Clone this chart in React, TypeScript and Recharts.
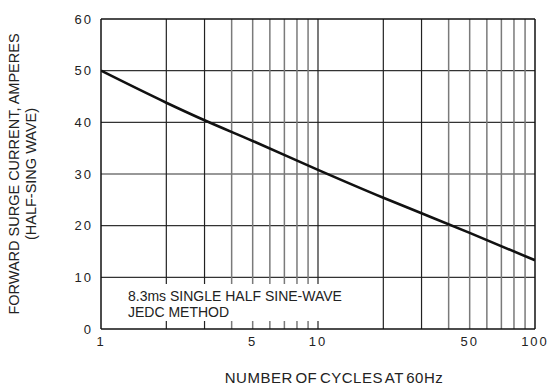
import { LineChart, Line, XAxis, YAxis, ReferenceLine } from 'recharts';

// surge current vs number of cycles (log x)
const cycles = [1, 2, 3, 5, 10, 20, 30, 50, 100];
const amps = [50, 43.8, 40.4, 36.4, 30.8, 25.4, 22.4, 18.6, 13.3];

const xTicks = [1, 5, 10, 50, 100];
const yTicks = [0, 10, 20, 30, 40, 50, 60];
const darkGridX = [2, 3, 10, 20, 30];
const greyGridX = [4, 5, 6, 7, 8, 9, 40, 50, 60, 70, 80, 90];
const gridY = [10, 20, 30, 40, 50];

const data = cycles.map((c, i) => ({ cycles: c, amps: amps[i] }));

const font = 'Arial, "Liberation Sans", Helvetica, sans-serif';
const tickStyle = { fontSize: 13, fill: '#222', fontFamily: font, letterSpacing: 2 };

export default function App() {
  return (
    <div style={{ position: 'absolute', left: 0, top: 0, width: 550, height: 388, background: '#fff' }}>
      <LineChart width={550} height={388} data={data} margin={{ top: 19, right: 15, bottom: 0, left: 0 }}>
        {gridY.map(v => (
          <ReferenceLine key={'y' + v} y={v} stroke="#333" strokeWidth={1.2} />
        ))}
        {greyGridX.map(v => (
          <ReferenceLine key={'g' + v} x={v} stroke="#7a7a7a" strokeWidth={1.5} />
        ))}
        {darkGridX.map(v => (
          <ReferenceLine key={'d' + v} x={v} stroke="#222" strokeWidth={1.2} />
        ))}
        <ReferenceLine y={60} stroke="#111" strokeWidth={1.5} />
        <ReferenceLine x={100} stroke="#111" strokeWidth={1.5} />
        <XAxis
          dataKey="cycles"
          type="number"
          scale="log"
          domain={[1, 100]}
          ticks={xTicks}
          allowDataOverflow
          tickLine={false}
          axisLine={{ stroke: '#111', strokeWidth: 1.5 }}
          tick={tickStyle}
          height={59}
          label={{
            value: 'NUMBER OF CYCLES AT 60Hz',
            position: 'insideBottom',
            offset: 5,
            dx: 16,
            style: { fontSize: 15, fill: '#222', fontFamily: font, letterSpacing: 0.5, wordSpacing: -2 },
          }}
        />
        <YAxis
          type="number"
          domain={[0, 60]}
          ticks={yTicks}
          tickLine={false}
          axisLine={{ stroke: '#111', strokeWidth: 1.5 }}
          tick={tickStyle}
          width={101}
        />
        <Line
          type="monotone"
          dataKey="amps"
          stroke="#111"
          strokeWidth={2.6}
          dot={false}
          isAnimationActive={false}
        />
      </LineChart>
      <svg
        width={550}
        height={388}
        style={{ position: 'absolute', left: 0, top: 0, pointerEvents: 'none' }}
        fontFamily={font}
      >
        <text
          transform="translate(19,174) rotate(-90)"
          textAnchor="middle"
          fontSize={14.5}
          fill="#222"
        >
          FORWARD SURGE CURRENT, AMPERES
        </text>
        <text
          transform="translate(36,174) rotate(-90)"
          textAnchor="middle"
          fontSize={14.5}
          fill="#222"
        >
          (HALF-SING WAVE)
        </text>
        <rect x={124} y={284} width={228} height={37} fill="#fff" />
        <text x={128} y={301} fontSize={14} fill="#222">
          8.3ms SINGLE HALF SINE-WAVE
        </text>
        <text x={128} y={317} fontSize={14} fill="#222">
          JEDC METHOD
        </text>
      </svg>
    </div>
  );
}
